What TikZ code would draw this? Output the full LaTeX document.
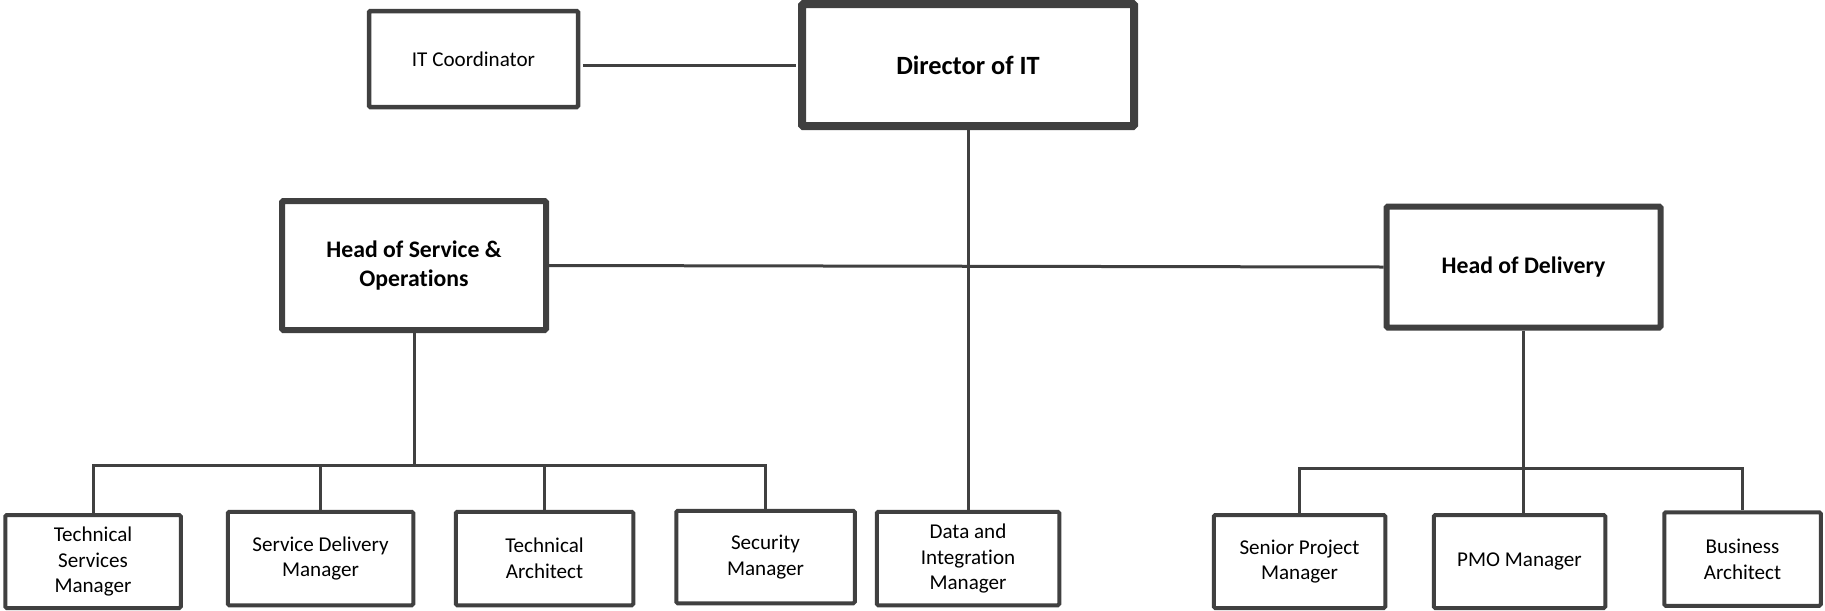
\documentclass[tikz,border=0pt]{standalone}
\usepackage{fontspec}
\setmainfont{Carlito}[Ligatures={NoCommon}]
\usepackage{tikz}
\definecolor{boxgray}{RGB}{64,64,64}
\tikzset{
  orgbox/.style    = {draw=boxgray,rectangle,rounded corners=0.8pt,align=center,fill=white,inner sep=2pt},
  topbox/.style    = {orgbox,line width=0.16cm,font=\fontsize{15}{18}\selectfont\bfseries},
  headbox/.style   = {orgbox,line width=0.12cm,font=\fontsize{13.5}{16.5}\selectfont\bfseries},
  staffbox/.style  = {orgbox,line width=0.08cm,font=\fontsize{12}{14.6}\selectfont},
  assistbox/.style = {orgbox,line width=0.09cm,font=\fontsize{12}{14.6}\selectfont},
  sized/.style 2 args = {minimum width=#1cm,minimum height=#2cm},
  orgline/.style   = {draw=boxgray,line width=0.06cm}
}
\begin{document}
\begin{tikzpicture}
  \useasboundingbox (0,0) rectangle (36.5,-12.2);
  \node[topbox,sized={6.64}{2.44}]    (dir) at (19.36,-1.30) {Director of IT};
  \node[assistbox,sized={4.18}{1.92}] (itc) at (9.47,-1.18)  {IT Coordinator};
  \node[headbox,sized={5.28}{2.58}]   (hso) at (8.28,-5.31)  {Head of Service \&\\Operations};
  \node[headbox,sized={5.48}{2.42}]   (hd)  at (30.47,-5.34) {Head of Delivery};
  \node[staffbox,sized={3.51}{1.86}]  (tsm) at (1.86,-11.23)  {Technical\\Services\\Manager};
  \node[staffbox,sized={3.71}{1.87}]  (sdm) at (6.41,-11.17)  {Service Delivery\\Manager};
  \node[staffbox,sized={3.55}{1.87}]  (ta)  at (10.89,-11.17) {Technical\\Architect};
  \node[staffbox,sized={3.57}{1.85}]  (sm)  at (15.31,-11.14) {Security\\Manager};
  \node[staffbox,sized={3.65}{1.87}]  (dim) at (19.36,-11.17) {Data and\\Integration\\Manager};
  \node[staffbox,sized={3.43}{1.86}]  (spm) at (25.99,-11.23) {Senior Project\\Manager};
  \node[staffbox,sized={3.43}{1.86}]  (pmo) at (30.39,-11.23) {PMO Manager};
  \node[staffbox,sized={3.13}{1.87}]  (ba)  at (34.85,-11.18) {Business\\Architect};
  \coordinate (lbus) at (0,-9.31);
  \coordinate (rbus) at (0,-9.36);
  \draw[orgline] ([xshift=0.05cm]itc.east |- dir.west) -- ([xshift=-0.04cm]dir.west);
  \draw[orgline] (dim.north -| dir.south) -- (dir.south);
  \draw[orgline] (hso.east) -- (hd.west);
  \draw[orgline] (hso.south) -- (hso.south |- lbus);
  \draw[orgline] (tsm.north) -- (tsm.north |- lbus) -- (sm.north |- lbus) -- (sm.north);
  \draw[orgline] (sdm.north) -- (sdm.north |- lbus);
  \draw[orgline] (ta.north) -- (ta.north |- lbus);
  \draw[orgline] (hd.south) -- (hd.south |- pmo.north);
  \draw[orgline] (spm.north) -- (spm.north |- rbus) -- (ba.north |- rbus) -- (ba.north);
\end{tikzpicture}
\end{document}
